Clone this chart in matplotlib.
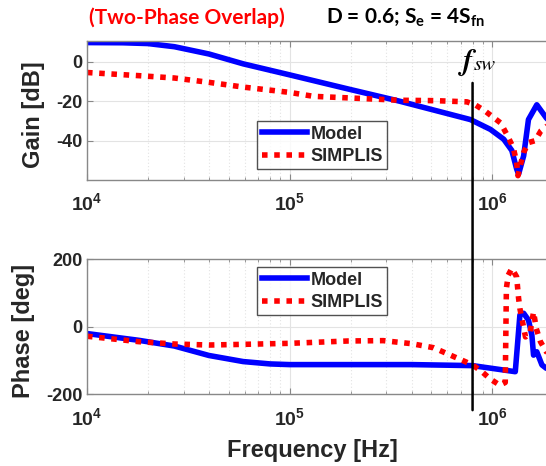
import numpy as np
import matplotlib
matplotlib.use("Agg")
import matplotlib.pyplot as plt
from matplotlib.patches import ConnectionPatch
from matplotlib.ticker import FuncFormatter, LogLocator, NullFormatter

# ---- data ----
# gain, model
f_gain_model = [1e4, 1.5e4, 2e4, 2.7e4, 4e4, 5.9e4, 1e5, 1.95e5, 3.5e5, 7.8e5, 9.8e5,
                1.14e6, 1.25e6, 1.32e6, 1.35e6, 1.43e6, 1.51e6, 1.66e6, 1.85e6, 2.2e6]
gain_model = [9.8, 9.7, 9.3, 7.7, 4.0, -1.0, -6.6, -13.8, -20.0, -29.3, -34.3,
              -39.3, -45.0, -54.4, -57.0, -47.7, -29.3, -21.8, -28.5, -36.0]
# gain, SIMPLIS
f_gain_simplis = [1e4, 1.8e4, 2.7e4, 4e4, 5.9e4, 1e5, 1.31e5, 1.95e5, 3.5e5, 5.25e5, 7.5e5,
                  8.24e5, 9.23e5, 1.1e6, 1.18e6, 1.27e6, 1.32e6, 1.34e6, 1.37e6, 1.43e6,
                  1.51e6, 1.63e6, 1.74e6, 2.0e6]
gain_simplis = [-5.4, -7.0, -8.2, -10.4, -12.8, -15.5, -17.5, -18.3, -19.5, -19.7, -20.3,
                -21.8, -25.0, -31.0, -36.8, -43.5, -51.0, -57.8, -53.4, -46.0,
                -41.0, -40.0, -35.0, -30.0]
# phase, model
f_phase_model = [1e4, 1.8e4, 2.7e4, 4e4, 5.9e4, 8e4, 1e5, 1.95e5, 4e5, 8e5, 1.30e6,
                 1.37e6, 1.43e6, 1.51e6, 1.57e6, 1.60e6, 1.66e6, 1.76e6, 1.85e6, 2.0e6]
phase_model = [-20, -40, -57, -85, -103, -110, -112, -112, -112, -115, -133,
               35, 40, 20, -25, -84, -74, -113, -123, -125]
# phase, SIMPLIS
f_phase_simplis = [1e4, 1.8e4, 2.7e4, 4e4, 5.9e4, 1e5, 1.95e5, 2.9e5, 4e5, 5.14e5, 6.5e5,
                   7.1e5, 8e5, 8.9e5, 9.8e5, 1.09e6, 1.16e6, 1.175e6, 1.2e6, 1.25e6,
                   1.32e6, 1.35e6, 1.37e6, 1.46e6, 1.54e6, 1.60e6, 1.65e6, 1.73e6, 1.85e6, 2.0e6]
phase_simplis = [-28, -44, -51, -54, -52, -49, -42, -41, -50, -62, -89,
                 -99, -113, -133, -155, -173, -165, 114, 153, 173,
                 148, 84, 54, -30, -15, 44, -5, -44, -74, -90]

f_sw = 8e5
fsw_line_top = -10.7      # dB, where the marker line starts in the gain axes
fsw_line_bottom = -247    # deg, where it ends under the phase axes

gain_ticks = [0, -20, -40]
phase_ticks = [200, 0, -200]
freq_ticks = [1e4, 1e5, 1e6]
labels = ["Model", "SIMPLIS"]

# ---- style ----
plt.rcParams["font.family"] = ["Liberation Sans", "DejaVu Sans"]
plt.rcParams["font.weight"] = "bold"
plt.rcParams["axes.labelweight"] = "bold"
plt.rcParams["axes.unicode_minus"] = False
plt.rcParams["mathtext.fontset"] = "custom"
plt.rcParams["mathtext.bf"] = "Liberation Sans:bold"
plt.rcParams["mathtext.rm"] = "Lato:bold"

W, H = 546, 466
fig = plt.figure(figsize=(W / 100, H / 100), dpi=100)

dec = 202.6            # pixels per decade
x0 = 87                # pixel of 1e4
f_max = 2.5e6          # axes run a bit past the right edge of the picture
ax_w = np.log10(f_max / 1e4) * dec / W
ax1 = fig.add_axes([x0 / W, (H - 180) / H, ax_w, 139 / H])
ax2 = fig.add_axes([x0 / W, (H - 394.3) / H, ax_w, 135 / H])

dark = "#262626"
blue = "#0000ff"
red = "#ff0000"

ax1.plot(f_gain_model, gain_model, color=blue, lw=4.0, solid_joinstyle="round", label=labels[0])
ax1.plot(f_gain_simplis, gain_simplis, color=red, lw=4.0, linestyle=(0, (1.0, 1.2)), label=labels[1])
ax2.plot(f_phase_model, phase_model, color=blue, lw=4.0, solid_joinstyle="round", label=labels[0])
ax2.plot(f_phase_simplis, phase_simplis, color=red, lw=4.0, linestyle=(0, (1.0, 1.2)), label=labels[1])

ax1.set_ylim(-60, 10.6)
ax2.set_ylim(-200, 200)
ax1.set_yticks(gain_ticks)
ax2.set_yticks(phase_ticks)

for ax in (ax1, ax2):
    ax.set_xscale("log")
    ax.set_xlim(1e4, f_max)
    ax.set_xticks(freq_ticks)
    ax.xaxis.set_minor_locator(LogLocator(base=10, subs=np.arange(2, 10)))
    ax.xaxis.set_minor_formatter(NullFormatter())
    ax.xaxis.set_major_formatter(FuncFormatter(lambda v, p: r"$\mathbf{10^{%d}}$" % round(np.log10(v))))
    ax.grid(True, which="major", color="#e3e3e3", lw=0.8)
    ax.grid(True, which="minor", axis="x", color="#e3e3e3", lw=0.8, linestyle=(0, (1, 2)))
    ax.set_axisbelow(True)
    ax.tick_params(which="both", direction="in", colors="#888888", labelcolor=dark, labelsize=13,
                   top=True, right=True)
    ax.tick_params(which="major", length=4)
    ax.tick_params(which="minor", length=2.5)
    ax.tick_params(axis="x", pad=9, labelsize=14)
    for s in ax.spines.values():
        s.set_color("#888888")
        s.set_linewidth(1.0)
    leg_y = 121 if ax is ax1 else 267
    leg = ax.legend(loc="upper left", bbox_to_anchor=(257 / W, 1 - leg_y / H),
                    bbox_transform=fig.transFigure, fontsize=13, frameon=True, fancybox=False,
                    handlelength=2.5, handletextpad=0.2, borderpad=0.25, labelspacing=0.3,
                    borderaxespad=0)
    leg.get_frame().set_edgecolor(dark)
    leg.get_frame().set_linewidth(1.0)
    for t in leg.get_texts():
        t.set_color(dark)

# ylabel x is the right edge of the rotated label
ax1.set_ylabel("Gain [dB]", fontsize=17, color=dark)
ax1.yaxis.set_label_coords((45 - x0) / (ax_w * W), 0.47)
ax2.set_ylabel("Phase [deg]", fontsize=17, color=dark)
ax2.yaxis.set_label_coords((35 - x0) / (ax_w * W), 0.47)
fig.text(312 / W, 1 - 450 / H, "Frequency [Hz]", fontsize=17, color=dark, ha="center", va="center")

# switching frequency marker spanning both axes
con = ConnectionPatch(xyA=(f_sw, fsw_line_top), coordsA=ax1.transData,
                      xyB=(f_sw, fsw_line_bottom), coordsB=ax2.transData,
                      color="black", lw=1.8, zorder=5)
fig.add_artist(con)
ax1.text(f_sw, fsw_line_top + 3.5, "f", family="STIXGeneral", style="italic", weight="bold",
         fontsize=21, ha="right", va="bottom", color="black", clip_on=False)
ax1.text(f_sw * 1.01, fsw_line_top + 4.5, "sw", family="STIXGeneral", style="italic", weight="normal",
         fontsize=15, ha="left", va="bottom", color="black", clip_on=False)

fig.text(89 / W, 1 - 18 / H, "(Two-Phase Overlap)", family=["Lato", "DejaVu Sans"], weight="bold",
         fontsize=15, color=red, ha="left", va="center")
fig.text(326 / W, 1 - 18 / H, r"D = 0.6; S$_{\mathrm{e}}$ = 4S$_{\mathrm{fn}}$", family=["Lato", "DejaVu Sans"],
         weight="bold", fontsize=15, color="black", ha="left", va="center")

fig.savefig("out.png", dpi=100)
